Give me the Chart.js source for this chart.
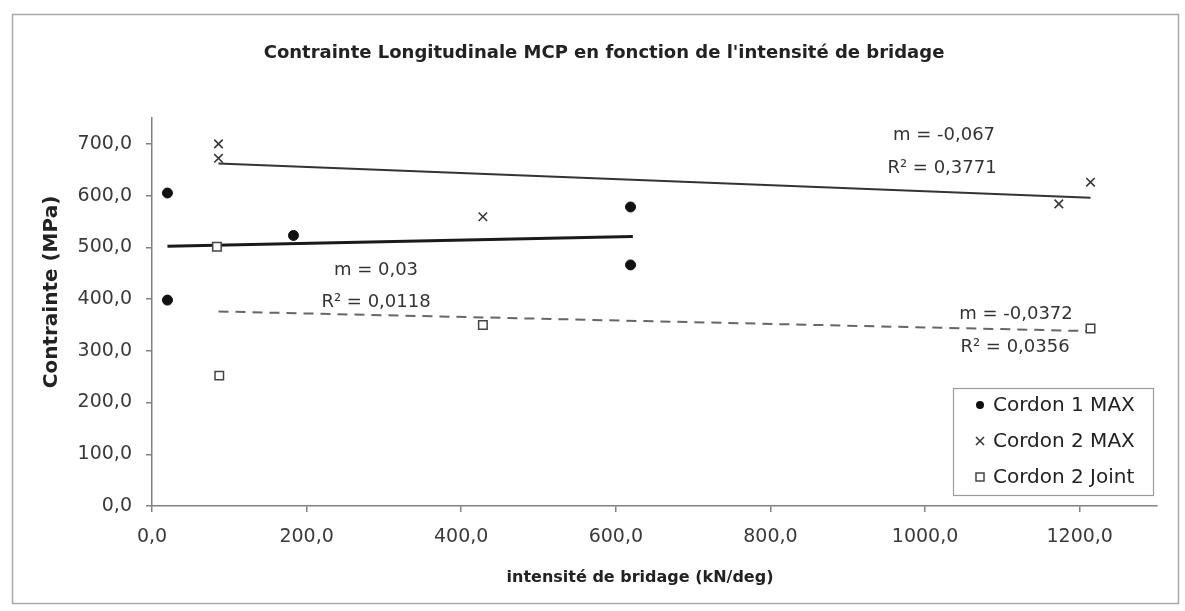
<!DOCTYPE html>
<html>
<head>
<meta charset="utf-8">
<script src="https://cdn.jsdelivr.net/npm/chart.js@4.4.1/dist/chart.umd.min.js"></script>
<style>
  html, body { margin: 0; padding: 0; background: #ffffff; }
  #wrap { width: 1185px; height: 611px; position: relative; }
</style>
</head>
<body>
<div id="wrap"><canvas id="c" width="1185" height="611"></canvas></div>
<script>
// ---- data ----
const cordon1X = [20, 20, 183, 619, 619];
const cordon1Y = [605, 398, 523, 578, 466];
const cordon2X = [86, 86, 428, 1173, 1214];
const cordon2Y = [700, 672, 559, 584, 626];
const jointX = [84, 87, 428, 1214];
const jointY = [501, 252, 350, 343];
// trend line end points (as drawn in the reference)
const trend1X = [20, 622];
const trend1Y = [502, 521];
const trend2X = [86, 1214];
const trend2Y = [662, 596];
const trend3X = [86, 1214];
const trend3Y = [376, 338];
const seriesNames = ["Cordon 1 MAX", "Cordon 2 MAX", "Cordon 2 Joint"];
const trendLabels = [
  ["m = 0,03", "R² = 0,0118"],
  ["m = -0,067", "R² = 0,3771"],
  ["m = -0,0372", "R² = 0,0356"]
];
const chartTitle = "Contrainte Longitudinale MCP en fonction de l'intensité de bridage";
const xTitle = "intensité de bridage (kN/deg)";
const yTitle = "Contrainte (MPa)";

const pts = (xs, ys) => xs.map((x, i) => ({ x: x, y: ys[i] }));
const fmt = v => v.toFixed(1).replace('.', ',');

const FONT = "'DejaVu Sans', sans-serif";

const decor = {
  id: 'decor',
  beforeDraw(chart) {
    const ctx = chart.ctx;
    ctx.save();
    ctx.fillStyle = '#ffffff';
    ctx.fillRect(0, 0, chart.width, chart.height);
    ctx.strokeStyle = '#a8a8a8';
    ctx.lineWidth = 1.5;
    ctx.strokeRect(12.5, 14.5, 1166, 589);
    ctx.restore();
  },
  afterDraw(chart) {
    const ctx = chart.ctx;
    ctx.save();
    ctx.fillStyle = '#222';
    ctx.textAlign = 'center';
    ctx.textBaseline = 'middle';
    ctx.font = "bold 18px " + FONT;
    ctx.fillText(chartTitle, 604, 53);
    ctx.font = "bold 16px " + FONT;
    ctx.fillText(xTitle, 640, 578);
    ctx.save();
    ctx.translate(52, 292);
    ctx.rotate(-Math.PI / 2);
    ctx.font = "bold 20px " + FONT;
    ctx.fillText(yTitle, 0, 0);
    ctx.restore();

    // trend annotations
    ctx.font = "18px " + FONT;
    ctx.fillStyle = '#333';
    const ann = [
      [376, 270, 376, 302],
      [944, 135, 942, 168],
      [1016, 314, 1015, 347]
    ];
    ann.forEach((a, i) => {
      ctx.fillText(trendLabels[i][0], a[0], a[1]);
      ctx.fillText(trendLabels[i][1], a[2], a[3]);
    });

    // legend
    const lx = 953, ly = 388, lw = 200, lh = 107;
    ctx.fillStyle = '#ffffff';
    ctx.fillRect(lx, ly, lw, lh);
    ctx.strokeStyle = '#9a9a9a';
    ctx.lineWidth = 1.2;
    ctx.strokeRect(lx + 0.5, ly + 0.5, lw, lh);
    const rows = [405, 441, 477];
    const ds = chart.data.datasets;
    rows.forEach((ry, i) => {
      const d = ds[i];
      ctx.fillStyle = d.backgroundColor;
      ctx.strokeStyle = d.borderColor;
      ctx.lineWidth = d.borderWidth;
      ctx.beginPath();
      if (d.pointStyle === 'circle') {
        ctx.arc(980, ry, 4, 0, Math.PI * 2);
        ctx.fill();
      } else if (d.pointStyle === 'crossRot') {
        ctx.moveTo(976, ry - 4); ctx.lineTo(984, ry + 4);
        ctx.moveTo(984, ry - 4); ctx.lineTo(976, ry + 4);
        ctx.stroke();
      } else {
        ctx.rect(976, ry - 4, 8, 8);
        ctx.fill(); ctx.stroke();
      }
      ctx.fillStyle = '#222';
      ctx.textAlign = 'left';
      ctx.font = "20px " + FONT;
      ctx.fillText(seriesNames[i], 993, ry + 1);
    });
    ctx.restore();
  }
};

new Chart(document.getElementById('c'), {
  type: 'scatter',
  data: {
    datasets: [
      { label: seriesNames[0], data: pts(cordon1X, cordon1Y), pointStyle: 'circle',
        pointRadius: 5, backgroundColor: '#111', borderColor: '#111', borderWidth: 1 },
      { label: seriesNames[1], data: pts(cordon2X, cordon2Y), pointStyle: 'crossRot',
        pointRadius: 6, backgroundColor: '#333', borderColor: '#333', borderWidth: 1.5 },
      { label: seriesNames[2], data: pts(jointX, jointY), pointStyle: 'rect',
        pointRadius: 6, backgroundColor: '#ffffff', borderColor: '#444', borderWidth: 1.5 },
      { label: 't1', data: pts(trend1X, trend1Y), showLine: true, pointRadius: 0,
        borderColor: '#1a1a1a', borderWidth: 3, backgroundColor: '#1a1a1a' },
      { label: 't2', data: pts(trend2X, trend2Y), showLine: true, pointRadius: 0,
        borderColor: '#333', borderWidth: 2, backgroundColor: '#333' },
      { label: 't3', data: pts(trend3X, trend3Y), showLine: true, pointRadius: 0,
        borderColor: '#666', borderWidth: 2, borderDash: [10, 7], backgroundColor: '#666' }
    ]
  },
  options: {
    responsive: false,
    animation: false,
    events: [],
    layout: { padding: { left: 0, right: 28, top: 118, bottom: 0 } },
    plugins: { legend: { display: false }, title: { display: false }, tooltip: { enabled: false } },
    scales: {
      x: {
        type: 'linear', min: 0, max: 1300,
        afterFit: s => { s.height = 105; },
        border: { display: true, color: '#808080', width: 1.5 },
        grid: { display: true, drawOnChartArea: false, drawTicks: true, tickLength: 6, color: '#808080', lineWidth: 1.5 },
        ticks: { stepSize: 200, includeBounds: false, padding: 14, color: '#3a3a3a',
          font: { family: 'DejaVu Sans', size: 19 }, maxRotation: 0,
          callback: v => fmt(v) }
      },
      y: {
        type: 'linear', min: 0, max: 750,
        afterFit: s => { s.width = 152; },
        border: { display: true, color: '#808080', width: 1.5 },
        grid: { display: true, drawOnChartArea: false, drawTicks: true, tickLength: 6, color: '#808080', lineWidth: 1.5 },
        ticks: { stepSize: 100, includeBounds: false, padding: 14, color: '#3a3a3a',
          font: { family: 'DejaVu Sans', size: 19 },
          callback: v => fmt(v) }
      }
    }
  },
  plugins: [decor]
});
</script>
</body>
</html>
